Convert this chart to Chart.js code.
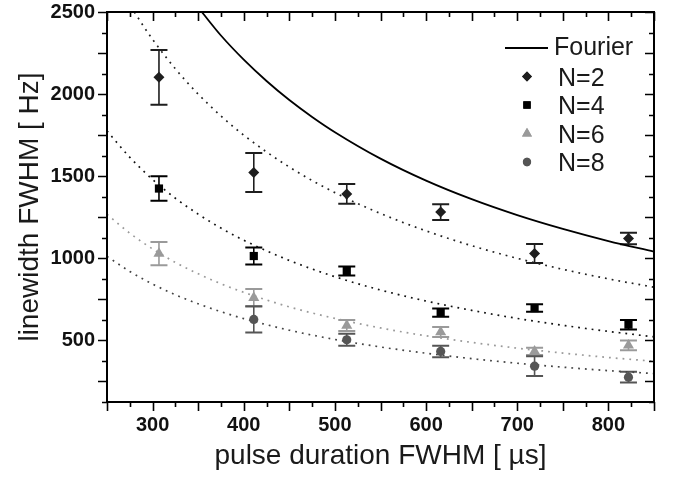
<!DOCTYPE html>
<html>
<head>
<meta charset="utf-8">
<script src="https://cdn.jsdelivr.net/npm/chart.js@4.4.0/dist/chart.umd.min.js"></script>
<style>
  html, body { margin: 0; padding: 0; background: #fff; }
  #wrap { width: 674px; height: 481px; }
</style>
</head>
<body>
<div id="wrap"><canvas id="grafico" width="674" height="481"></canvas></div>
<script>
// pulse durations (µs) of the measured points
const pulse = [307, 411, 513, 616, 719, 822];

// measured linewidths (Hz) and their error bars
const n2 = [2102, 1523, 1392, 1282, 1029, 1120];
const n2Err = [167, 119, 60, 48, 58, 35];
const n4 = [1425, 1014, 923, 669, 697, 596];
const n4Err = [75, 52, 27, 25, 23, 29];
const n6 = [1029, 760, 591, 551, 433, 470];
const n6Err = [71, 53, 34, 30, 22, 30];
const n8 = [628, 504, 433, 343, 276];   // no point at the first duration
const n8Err = [80, 37, 35, 60, 33];

// Fourier limit
const fourierX = [354, 375, 400, 425, 450, 475, 500, 550, 600, 650, 700, 750, 800, 850];
const fourierY = [2500, 2357, 2210, 2080, 1964, 1861, 1768, 1607, 1473, 1360, 1263, 1179, 1105, 1040];

// dotted fit curves
const fit2X = [280, 290, 300, 325, 350, 375, 400, 450, 500, 550, 600, 650, 700, 750, 800, 850];
const fit2Y = [2500, 2414, 2333, 2154, 2000, 1867, 1750, 1556, 1400, 1273, 1167, 1077, 1000, 933, 875, 824];
const fitX = [250, 275, 300, 325, 350, 375, 400, 450, 500, 550, 600, 650, 700, 750, 800, 850];
const fit4Y = [1776, 1615, 1480, 1366, 1269, 1184, 1110, 987, 888, 807, 740, 683, 634, 592, 555, 522];
const fit6Y = [1268, 1153, 1057, 975, 906, 845, 793, 704, 634, 576, 528, 488, 453, 423, 396, 373];
const fit8Y = [1012, 920, 843, 778, 723, 675, 633, 562, 506, 460, 422, 389, 361, 337, 316, 298];

// tick labels
const xTickLabels = [300, 400, 500, 600, 700, 800];
const yTickLabels = [500, 1000, 1500, 2000, 2500];

const serieLabels = ['N=2', 'N=4', 'N=6', 'N=8'];
const fourierLabel = 'Fourier';

const FONTE = "'Liberation Sans', Arial, Helvetica, sans-serif";

function pontos(xs, ys) {
    return ys.map(function(v, i){ return {x: xs[i], y: v}; });
}

function serie(label, xs, ys, erros, estilo, raio, cor) {
    return {
        label: label,
        data: pontos(xs, ys),
        erros: erros,
        showLine: false,
        pointStyle: estilo,
        pointRadius: raio,
        pointBackgroundColor: cor,
        pointBorderColor: cor,
        pointBorderWidth: 0,
        backgroundColor: cor,
        borderColor: cor
    };
}

function curva(label, xs, ys, cor, tracejado, largura) {
    return {
        label: label,
        data: pontos(xs, ys),
        showLine: true,
        pointRadius: 0,
        borderColor: cor,
        borderWidth: largura,
        borderDash: tracejado,
        cubicInterpolationMode: 'monotone',
        fill: false
    };
}

const datasets = [
    serie(serieLabels[0], pulse, n2, n2Err, 'rectRot', 5.5, '#1e1e1e'),
    serie(serieLabels[1], pulse, n4, n4Err, 'rect', 5.8, '#000000'),
    serie(serieLabels[2], pulse, n6, n6Err, 'triangle', 6.4, '#9a9a9a'),
    serie(serieLabels[3], pulse.slice(1), n8, n8Err, 'circle', 4.6, '#555555'),
    curva(fourierLabel, fourierX, fourierY, '#000000', [], 1.8),
    curva('fit N=2', fit2X, fit2Y, '#222222', [1.8, 5], 1.7),
    curva('fit N=4', fitX, fit4Y, '#111111', [1.8, 5], 1.7),
    curva('fit N=6', fitX, fit6Y, '#9a9a9a', [1.8, 5], 1.7),
    curva('fit N=8', fitX, fit8Y, '#444444', [1.8, 5], 1.7)
];

// error bars under the markers
const barrasErro = {
    id: 'barrasErro',
    beforeDatasetsDraw(chart) {
        const ctx = chart.ctx;
        const y = chart.scales.y;
        ctx.save();
        chart.data.datasets.forEach(function(ds, i){
            if (!ds.erros) return;
            const meta = chart.getDatasetMeta(i);
            ctx.strokeStyle = ds.pointBackgroundColor;
            meta.data.forEach(function(pt, j){
                const v = ds.data[j].y, e = ds.erros[j];
                const yt = y.getPixelForValue(v + e), yb = y.getPixelForValue(v - e);
                ctx.lineWidth = 1.6;
                ctx.beginPath();
                ctx.moveTo(pt.x, yt); ctx.lineTo(pt.x, yb);
                ctx.stroke();
                ctx.lineWidth = 2;
                ctx.beginPath();
                ctx.moveTo(pt.x - 8.5, yt); ctx.lineTo(pt.x + 8.5, yt);
                ctx.moveTo(pt.x - 8.5, yb); ctx.lineTo(pt.x + 8.5, yb);
                ctx.stroke();
            });
        });
        ctx.restore();
    }
};

// box frame with ticks: outward on left/bottom, inward on top/right
const moldura = {
    id: 'moldura',
    afterDatasetsDraw(chart) {
        const ctx = chart.ctx, a = chart.chartArea;
        const x = chart.scales.x, y = chart.scales.y;
        ctx.save();
        ctx.strokeStyle = '#000';
        ctx.lineWidth = 1.6;
        ctx.beginPath();
        for (let v = x.min; v <= x.max; v += 25) {
            const px = Math.round(x.getPixelForValue(v)) + 0.5;
            const t = v % 50 === 0 ? 9 : 5;
            ctx.moveTo(px, a.bottom); ctx.lineTo(px, a.bottom + t);
            ctx.moveTo(px, a.top); ctx.lineTo(px, a.top + t);
        }
        for (let v = y.min; v <= y.max; v += 125) {
            const py = Math.round(y.getPixelForValue(v)) + 0.5;
            const t = v % 250 === 0 ? 9 : 5;
            ctx.moveTo(a.left, py); ctx.lineTo(a.left - t, py);
            ctx.moveTo(a.right, py); ctx.lineTo(a.right - t, py);
        }
        ctx.stroke();
        ctx.lineWidth = 2;
        ctx.strokeRect(a.left, a.top, a.right - a.left, a.bottom - a.top);
        ctx.restore();
    }
};

// legend in the top right corner of the plot
const legenda = {
    id: 'legenda',
    afterDraw(chart) {
        const ctx = chart.ctx, a = chart.chartArea;
        const x0 = a.right - 149, xt = a.right - 96;
        let yy = a.top + 36;
        ctx.save();
        ctx.font = '25px ' + FONTE;
        ctx.fillStyle = '#1a1a1a';
        ctx.textBaseline = 'alphabetic';
        ctx.strokeStyle = '#000';
        ctx.lineWidth = 1.8;
        ctx.beginPath();
        ctx.moveTo(x0, yy); ctx.lineTo(x0 + 43, yy);
        ctx.stroke();
        ctx.fillText(fourierLabel, xt - 4, yy + 7);
        for (let i = 0; i < 4; i++) {
            yy += 28.5;
            const ds = chart.data.datasets[i];
            ctx.fillStyle = ds.pointBackgroundColor;
            Chart.helpers.drawPoint(ctx, {pointStyle: ds.pointStyle, radius: ds.pointRadius * 0.9, rotation: 0, borderWidth: 0}, x0 + 22, yy);
            ctx.fill();
            ctx.fillStyle = '#1a1a1a';
            ctx.fillText(serieLabels[i], xt, yy + 9);
        }
        ctx.restore();
    }
};

let context = document.getElementById('grafico').getContext('2d');

let grafico = new Chart(context, {
    type: 'scatter',
    data: { datasets: datasets },
    options: {
        responsive: false,
        animation: false,
        events: [],
        layout: { padding: { top: 12, right: 20, left: 0, bottom: 0 } },
        plugins: { legend: { display: false }, tooltip: { enabled: false } },
        scales: {
            x: {
                type: 'linear',
                min: 250,
                max: 850,
                afterBuildTicks: function(s){ s.ticks = xTickLabels.map(function(v){ return {value: v}; }); },
                afterFit: function(s){ s.height = 79; s.paddingLeft = 0; s.paddingRight = 0; },
                grid: { display: false, drawTicks: false },
                border: { display: false },
                ticks: { padding: 11, color: '#111', font: { family: FONTE, size: 20, weight: 'bold' }, maxRotation: 0,
                         callback: function(v){ return String(v); } },
                title: { display: true, text: 'pulse duration FWHM [ µs]', color: '#1a1a1a',
                         font: { family: FONTE, size: 28 }, padding: { top: 0, bottom: 8 } }
            },
            y: {
                type: 'linear',
                min: 125,
                max: 2500,
                afterBuildTicks: function(s){ s.ticks = yTickLabels.map(function(v){ return {value: v}; }); },
                afterFit: function(s){ s.width = 107; s.paddingTop = 0; s.paddingBottom = 0; },
                grid: { display: false, drawTicks: false },
                border: { display: false },
                ticks: { padding: 12, color: '#111', font: { family: FONTE, size: 20, weight: 'bold' },
                         callback: function(v){ return String(v); } },
                title: { display: true, text: 'linewidth FWHM [ Hz]', color: '#1a1a1a',
                         font: { family: FONTE, size: 28 }, padding: { top: 13, bottom: 0 } }
            }
        }
    },
    plugins: [barrasErro, moldura, legenda]
});
</script>
</body>
</html>
